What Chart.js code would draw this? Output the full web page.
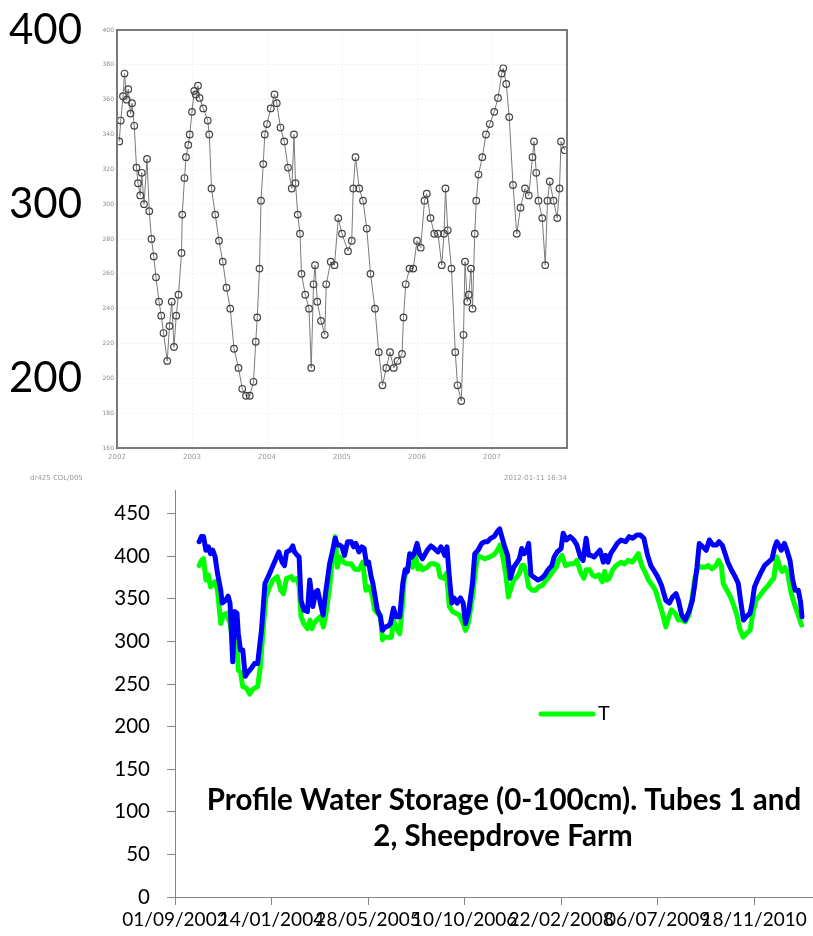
<!DOCTYPE html>
<html>
<head>
<meta charset="utf-8">
<script src="https://cdn.jsdelivr.net/npm/chart.js@4.4.1/dist/chart.umd.min.js"></script>
<style>
  html, body { margin: 0; padding: 0; background: #fff; }
  #wrap { position: relative; width: 813px; height: 936px; overflow: hidden; }
  #scanChart { position: absolute; left: 0; top: 0; z-index: 2; background: #fff; }
  #storageChart { position: absolute; left: 0; top: 440px; z-index: 1; }
</style>
</head>
<body>
<div id="wrap">
  <canvas id="storageChart" width="813" height="496"></canvas>
  <canvas id="scanChart" width="600" height="490"></canvas>
</div>
<script>
// ---- upper (scanned) chart: profile storage, 2002-2008 ----
const scanYears = [
  2002.03, 2002.05, 2002.08, 2002.10, 2002.13, 2002.15, 2002.18, 2002.20, 2002.23, 2002.26,
  2002.28, 2002.31, 2002.33, 2002.36, 2002.40, 2002.43, 2002.46, 2002.49, 2002.52, 2002.56,
  2002.59, 2002.62, 2002.67, 2002.70, 2002.73, 2002.76, 2002.79, 2002.82, 2002.86, 2002.87,
  2002.90, 2002.92, 2002.95, 2002.97, 2003.00, 2003.03, 2003.05, 2003.08, 2003.10, 2003.15,
  2003.21, 2003.23, 2003.26, 2003.31, 2003.36, 2003.41, 2003.46, 2003.51, 2003.56, 2003.62,
  2003.67, 2003.72, 2003.77, 2003.82, 2003.85, 2003.87, 2003.90, 2003.92, 2003.95, 2003.97,
  2004.00, 2004.05, 2004.10, 2004.13, 2004.18, 2004.23, 2004.28, 2004.33, 2004.36, 2004.38,
  2004.41, 2004.44, 2004.46, 2004.51, 2004.56, 2004.59, 2004.62, 2004.64, 2004.67, 2004.72,
  2004.77, 2004.79, 2004.85, 2004.90, 2004.95, 2005.00, 2005.08, 2005.13, 2005.15, 2005.18,
  2005.23, 2005.28, 2005.33, 2005.38, 2005.44, 2005.49, 2005.54, 2005.59, 2005.64, 2005.69,
  2005.74, 2005.80, 2005.82, 2005.85, 2005.90, 2005.95, 2006.00, 2006.05, 2006.10, 2006.13,
  2006.18, 2006.23, 2006.28, 2006.33, 2006.36, 2006.38, 2006.41, 2006.46, 2006.51, 2006.54,
  2006.59, 2006.62, 2006.64, 2006.67, 2006.69, 2006.72, 2006.74, 2006.77, 2006.79, 2006.82,
  2006.87, 2006.92, 2006.97, 2007.03, 2007.08, 2007.13, 2007.15, 2007.19, 2007.23, 2007.28,
  2007.33, 2007.38, 2007.44, 2007.49, 2007.54, 2007.56, 2007.59, 2007.62, 2007.67, 2007.71,
  2007.74, 2007.77, 2007.82, 2007.87, 2007.90, 2007.92, 2007.97
];
const scanValues = [
  336, 348, 362, 375, 360, 366, 352, 358, 345, 321,
  312, 305, 318, 300, 326, 296, 280, 270, 258, 244,
  236, 226, 210, 230, 244, 218, 236, 248, 272, 294,
  315, 327, 334, 340, 353, 365, 363, 368, 361, 355,
  348, 340, 309, 294, 279, 267, 252, 240, 217, 206,
  194, 190, 190, 198, 221, 235, 263, 302, 323, 340,
  346, 355, 363, 358, 344, 336, 321, 309, 340, 312,
  294, 283, 260, 248, 240, 206, 254, 265, 244, 233,
  225, 254, 267, 265, 292, 283, 273, 279, 309, 327,
  309, 302, 286, 260, 240, 215, 196, 206, 215, 206,
  210, 214, 235, 254, 263, 263, 279, 275, 302, 306,
  292, 283, 283, 265, 283, 309, 285, 263, 215, 196,
  187, 225, 267, 244, 248, 263, 240, 283, 302, 317,
  327, 340, 346, 353, 361, 375, 378, 369, 350, 311,
  283, 298, 309, 305, 327, 336, 318, 302, 292, 265,
  302, 313, 302, 292, 309, 336, 331
];
const scanYearTicks = [2002, 2003, 2004, 2005, 2006, 2007];
const scanSmallTicks = [160, 180, 200, 220, 240, 260, 280, 300, 320, 340, 360, 380, 400];
const scanBigTicks = [200, 300, 400];
const scanFooter = ['dr425 CDL/005', '2012-01-11 16:34'];

// ---- lower chart: profile water storage, days since 01/09/2002 ----
const greenDays = [
  125, 137, 148, 160, 173, 184, 196, 208, 220, 237, 251, 268, 285, 299, 309, 321, 328, 339, 351, 371,
  387, 400, 412, 428, 442, 459, 471, 490, 507, 530, 548, 562, 578, 603, 614, 634, 643, 653, 667, 686,
  700, 709, 721, 734, 753, 769, 782, 801, 817, 830, 841, 853, 873, 889, 913, 930, 949, 960, 973, 989,
  1003, 1020, 1034, 1048, 1064, 1075, 1087, 1104, 1121, 1132, 1144, 1164, 1178, 1187, 1200, 1216, 1230, 1245, 1259, 1271,
  1282, 1307, 1323, 1343, 1362, 1373, 1391, 1407, 1421, 1438, 1455, 1473, 1493, 1505, 1521, 1541, 1557, 1569, 1584, 1605,
  1629, 1648, 1665, 1684, 1698, 1713, 1727, 1737, 1755, 1773, 1784, 1796, 1809, 1820, 1832, 1851, 1868, 1884, 1904, 1923,
  1939, 1957, 1975, 1987, 2004, 2023, 2047, 2066, 2082, 2100, 2118, 2130, 2148, 2162, 2178, 2195, 2214, 2226, 2238, 2250,
  2267, 2286, 2310, 2329, 2346, 2370, 2382, 2400, 2418, 2434, 2453, 2472, 2489, 2505, 2525, 2543, 2558, 2572, 2591, 2608,
  2625, 2643, 2663, 2680, 2691, 2711, 2727, 2745, 2763, 2782, 2802, 2816, 2830, 2840, 2859, 2878, 2895, 2911, 2925, 2943,
  2959, 2979, 2995, 3009, 3031, 3050, 3074, 3093, 3102, 3117, 3134, 3145, 3159, 3174, 3193, 3213, 3229, 3246
];
const greenValues = [
  389, 395, 397, 372, 378, 364, 368, 370, 360, 321, 331, 333, 321, 298, 329, 294, 266, 264, 247, 245,
  238, 243, 245, 247, 270, 321, 352, 364, 372, 376, 360, 356, 374, 376, 372, 374, 364, 329, 321, 315,
  325, 315, 321, 325, 329, 317, 333, 364, 401, 423, 387, 399, 393, 391, 391, 385, 384, 387, 393, 360,
  364, 356, 337, 333, 331, 302, 305, 305, 305, 325, 317, 309, 341, 372, 384, 391, 387, 401, 385, 389,
  384, 387, 391, 391, 389, 376, 374, 380, 341, 335, 333, 331, 321, 313, 323, 352, 384, 401, 399, 397,
  399, 401, 405, 413, 399, 380, 352, 360, 372, 376, 380, 389, 389, 380, 364, 360, 360, 364, 366, 372,
  376, 382, 387, 395, 401, 389, 391, 391, 395, 382, 374, 384, 384, 378, 376, 378, 370, 382, 372, 374,
  384, 389, 393, 391, 395, 393, 397, 403, 389, 382, 372, 366, 360, 348, 333, 317, 329, 337, 333, 325,
  325, 323, 331, 352, 372, 389, 387, 387, 389, 385, 389, 395, 389, 368, 360, 352, 342, 331, 315, 305,
  309, 313, 335, 348, 354, 360, 366, 372, 374, 399, 387, 382, 387, 380, 356, 341, 331, 319
];
const blueDays = [
  125, 137, 148, 160, 173, 184, 196, 208, 220, 237, 244, 261, 275, 285, 292, 299, 309, 321, 328, 339,
  351, 364, 375, 394, 412, 428, 448, 466, 483, 500, 519, 538, 555, 567, 578, 596, 610, 619, 634, 643,
  653, 667, 686, 698, 705, 714, 729, 739, 753, 767, 782, 801, 817, 830, 841, 853, 865, 878, 894, 913,
  925, 937, 953, 968, 980, 992, 1003, 1016, 1025, 1037, 1048, 1064, 1075, 1091, 1104, 1116, 1132, 1144, 1164, 1180,
  1192, 1204, 1216, 1228, 1239, 1254, 1266, 1282, 1307, 1326, 1343, 1362, 1378, 1398, 1409, 1421, 1434, 1445, 1462, 1479,
  1493, 1505, 1521, 1541, 1553, 1570, 1589, 1605, 1618, 1636, 1653, 1670, 1682, 1693, 1708, 1723, 1737, 1755, 1773, 1784,
  1796, 1809, 1820, 1832, 1844, 1856, 1880, 1899, 1916, 1932, 1952, 1964, 1980, 2000, 2011, 2028, 2047, 2066, 2082, 2100,
  2114, 2130, 2143, 2155, 2171, 2186, 2202, 2219, 2231, 2243, 2257, 2274, 2291, 2310, 2334, 2353, 2370, 2393, 2410, 2429,
  2448, 2465, 2484, 2500, 2520, 2543, 2561, 2577, 2596, 2608, 2625, 2643, 2663, 2680, 2691, 2704, 2716, 2734, 2752, 2768,
  2787, 2804, 2818, 2835, 2847, 2864, 2882, 2902, 2918, 2930, 2945, 2959, 2979, 2990, 3002, 3021, 3038, 3054, 3074, 3093,
  3105, 3117, 3129, 3141, 3157, 3170, 3186, 3200, 3213, 3229, 3241, 3248
];
const blueValues = [
  417, 423, 423, 407, 411, 403, 407, 399, 380, 360, 345, 348, 353, 345, 313, 276, 335, 333, 309, 290,
  290, 259, 263, 268, 274, 274, 313, 368, 376, 385, 395, 405, 393, 389, 405, 407, 412, 405, 401, 399,
  348, 337, 335, 372, 360, 341, 358, 360, 345, 331, 360, 391, 407, 421, 413, 413, 411, 401, 417, 417,
  411, 415, 405, 411, 409, 391, 393, 376, 368, 352, 337, 329, 313, 317, 318, 321, 339, 329, 329, 368,
  384, 382, 403, 399, 403, 415, 403, 397, 407, 412, 409, 405, 411, 401, 411, 376, 345, 351, 345, 351,
  345, 321, 335, 368, 403, 407, 415, 417, 417, 421, 423, 429, 432, 423, 411, 401, 374, 387, 393, 397,
  409, 403, 405, 415, 378, 376, 372, 374, 378, 384, 389, 399, 405, 409, 427, 419, 423, 419, 413, 399,
  395, 421, 401, 401, 399, 403, 407, 393, 401, 393, 403, 409, 415, 419, 417, 423, 421, 425, 425, 421,
  401, 389, 382, 376, 366, 348, 345, 352, 356, 348, 331, 325, 335, 348, 364, 387, 415, 411, 407, 419,
  413, 413, 417, 413, 405, 393, 384, 376, 368, 348, 325, 329, 333, 345, 364, 374, 382, 389, 393, 397,
  409, 417, 413, 407, 415, 407, 395, 372, 360, 360, 346, 329
];
const xTickDays = [0, 500, 1000, 1500, 2000, 2500, 3000];
const xTickLabels = ['01/09/2002', '14/01/2004', '28/05/2005', '10/10/2006', '22/02/2008', '06/07/2009', '18/11/2010'];
const legendLabel = 'T';
const titleLines = ['Profile Water Storage (0-100cm). Tubes 1 and', '2, Sheepdrove Farm'];

const greenColor = '#00ff00';
const blueColor = '#0000ff';
const axisGray = '#868686';
const bodyFont = 'Lato';

// ---------- upper chart ----------
const scanFrame = {
  id: 'scanFrame',
  afterDraw(chart) {
    const { ctx, chartArea: a } = chart;
    ctx.save();
    ctx.strokeStyle = '#7a7a7a';
    ctx.lineWidth = 2;
    ctx.strokeRect(a.left, a.top, a.right - a.left, a.bottom - a.top);
    ctx.fillStyle = '#9a9a9a';
    ctx.font = '7px "DejaVu Sans"';
    ctx.textBaseline = 'middle';
    ctx.textAlign = 'left';
    ctx.fillText(scanFooter[0], 30, 478);
    ctx.textAlign = 'right';
    ctx.fillText(scanFooter[1], 567, 478);
    ctx.restore();
  }
};

// keep the outer labels from pushing the plot frame around
const noLabelPadding = axis => { axis.paddingTop = 0; axis.paddingBottom = 0; };

new Chart(document.getElementById('scanChart').getContext('2d'), {
  type: 'line',
  data: {
    datasets: [{
      label: 'storage',
      data: scanYears.map((x, i) => ({ x: x, y: scanValues[i] })),
      borderColor: '#7a7a7a',
      borderWidth: 1,
      pointRadius: 3.3,
      pointBorderWidth: 1.2,
      pointBorderColor: '#444',
      pointBackgroundColor: 'rgba(255,255,255,0)',
      tension: 0
    }]
  },
  options: {
    responsive: false,
    animation: false,
    layout: { padding: { top: 30, right: 33, bottom: 22, left: 0 } },
    plugins: { legend: { display: false }, tooltip: { enabled: false } },
    scales: {
      x: {
        type: 'linear', min: 2002, max: 2008,
        afterBuildTicks: axis => { axis.ticks = scanYearTicks.map(v => ({ value: v })); },
        afterFit: axis => { axis.height = 20; axis.paddingLeft = 0; axis.paddingRight = 0; },
        ticks: { autoSkip: false, maxRotation: 0, padding: 2, color: '#9a9a9a',
                 font: { family: 'DejaVu Sans', size: 7 }, callback: v => String(v) },
        grid: { color: 'rgba(0,0,0,0.10)', tickLength: 3 },
        border: { display: false, dash: [1, 3] }
      },
      y: {
        type: 'linear', min: 160, max: 400, position: 'left', weight: 0,
        afterBuildTicks: axis => { axis.ticks = scanSmallTicks.map(v => ({ value: v })); },
        afterFit: axis => { axis.width = 20; noLabelPadding(axis); },
        ticks: { autoSkip: false, padding: 1, color: '#8a8a8a', font: { family: 'DejaVu Sans', size: 6 } },
        grid: { color: 'rgba(0,0,0,0.10)', tickLength: 2 },
        border: { display: false, dash: [1, 3] }
      },
      yBig: {
        type: 'linear', min: 160, max: 400, position: 'left', weight: 1,
        afterBuildTicks: axis => { axis.ticks = scanBigTicks.map(v => ({ value: v })); },
        afterFit: axis => { axis.width = 97; noLabelPadding(axis); },
        ticks: { autoSkip: false, padding: 15, color: '#000', font: { family: bodyFont, size: 42 } },
        grid: { display: false, drawTicks: false },
        border: { display: false }
      }
    }
  },
  plugins: [scanFrame]
});

// ---------- lower chart ----------
const storageNotes = {
  id: 'storageNotes',
  afterDraw(chart) {
    const ctx = chart.ctx;
    ctx.save();
    // legend entry (only T shown)
    ctx.strokeStyle = greenColor;
    ctx.lineWidth = 5;
    ctx.lineCap = 'round';
    ctx.beginPath();
    ctx.moveTo(541, 274);
    ctx.lineTo(593, 274);
    ctx.stroke();
    ctx.fillStyle = '#000';
    ctx.font = '20px ' + bodyFont;
    ctx.textBaseline = 'middle';
    ctx.textAlign = 'left';
    ctx.fillText(legendLabel, 598, 274);
    // title inside plot
    ctx.font = 'bold 29.5px ' + bodyFont;
    ctx.textAlign = 'center';
    ctx.fillText(titleLines[0], 504, 360);
    ctx.fillText(titleLines[1], 503, 396);
    ctx.restore();
  }
};

const lineStyle = {
  borderWidth: 5,
  pointRadius: 0,
  tension: 0,
  borderJoinStyle: 'round',
  borderCapStyle: 'round',
  fill: false
};

new Chart(document.getElementById('storageChart').getContext('2d'), {
  type: 'line',
  data: {
    datasets: [
      Object.assign({
        label: 'Tube 2',
        data: blueDays.map((d, i) => ({ x: d, y: blueValues[i] })),
        borderColor: blueColor
      }, lineStyle),
      Object.assign({
        label: legendLabel,
        data: greenDays.map((d, i) => ({ x: d, y: greenValues[i] })),
        borderColor: greenColor
      }, lineStyle)
    ]
  },
  options: {
    responsive: false,
    animation: false,
    layout: { padding: { top: 31, right: 1, bottom: 0, left: 0 } },
    plugins: { legend: { display: false }, tooltip: { enabled: false } },
    scales: {
      x: {
        type: 'linear', min: 0, max: 3300,
        afterBuildTicks: axis => { axis.ticks = xTickDays.map(v => ({ value: v })); },
        afterFit: axis => { axis.height = 39; axis.paddingLeft = 0; axis.paddingRight = 0; },
        ticks: {
          autoSkip: false, maxRotation: 0, minRotation: 0, padding: 3, color: '#000',
          font: { family: bodyFont, size: 19 },
          callback: (v, i) => xTickLabels[i]
        },
        grid: { drawOnChartArea: false, tickLength: 8, color: axisGray },
        border: { color: axisGray, width: 1 }
      },
      y: {
        type: 'linear', min: 0, max: 500,
        afterFit: axis => { axis.width = 175; noLabelPadding(axis); },
        ticks: { stepSize: 50, padding: 17, color: '#000', font: { family: bodyFont, size: 20.5 } },
        grid: { drawOnChartArea: false, tickLength: 8, color: axisGray },
        border: { color: axisGray, width: 1 }
      }
    }
  },
  plugins: [storageNotes]
});
</script>
</body>
</html>
